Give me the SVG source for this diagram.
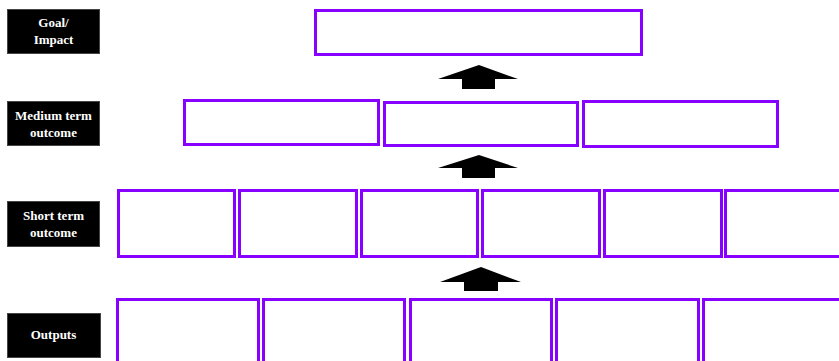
<svg xmlns="http://www.w3.org/2000/svg" width="839" height="361" viewBox="0 0 839 361">
<style>
.lbl{fill:#000;stroke:#444;stroke-width:1}
.lt{fill:#fff;font-family:"Liberation Serif",serif;font-weight:bold;font-size:13px;text-anchor:middle}
.box{fill:#fff;stroke:#8800ff;stroke-width:3}
.arr{fill:#000}
</style>
<rect width="839" height="361" fill="#fff"/>
<g id="label-goal"><rect class="lbl" x="7.5" y="9.5" width="92" height="44"/><text class="lt" x="53.5" y="27">Goal/</text><text class="lt" x="53.5" y="44">Impact</text></g>
<g id="label-medium"><rect class="lbl" x="7.5" y="101.5" width="92" height="44"/><text class="lt" x="53.5" y="120">Medium term</text><text class="lt" x="53.5" y="137">outcome</text></g>
<g id="label-short"><rect class="lbl" x="7.5" y="201.5" width="92" height="45"/><text class="lt" x="53.5" y="220">Short term</text><text class="lt" x="53.5" y="237">outcome</text></g>
<g id="label-outputs"><rect class="lbl" x="7.5" y="313.5" width="93" height="44"/><text class="lt" x="53.5" y="339">Outputs</text></g>
<g id="goal-box"><rect class="box" x="315.5" y="10.5" width="326" height="44"/></g>
<g id="medium-1"><rect class="box" x="184.5" y="100.5" width="194" height="44"/></g>
<g id="medium-2"><rect class="box" x="384.5" y="102.5" width="193" height="43"/></g>
<g id="medium-3"><rect class="box" x="583.5" y="101.5" width="194" height="45"/></g>
<g id="short-1"><rect class="box" x="118.5" y="190.5" width="116" height="66"/></g>
<g id="short-2"><rect class="box" x="239.5" y="190.5" width="117" height="66"/></g>
<g id="short-3"><rect class="box" x="361.5" y="190.5" width="116" height="66"/></g>
<g id="short-4"><rect class="box" x="482.5" y="190.5" width="117" height="66"/></g>
<g id="short-5"><rect class="box" x="604.5" y="190.5" width="117" height="66"/></g>
<g id="short-6"><rect class="box" x="725.5" y="190.5" width="117" height="66"/></g>
<g id="output-1"><rect class="box" x="117.5" y="299.5" width="141" height="70"/></g>
<g id="output-2"><rect class="box" x="263.5" y="299.5" width="141" height="70"/></g>
<g id="output-3"><rect class="box" x="410.5" y="299.5" width="141" height="70"/></g>
<g id="output-4"><rect class="box" x="556.5" y="299.5" width="142" height="70"/></g>
<g id="output-5"><rect class="box" x="703.5" y="299.5" width="142" height="70"/></g>
<g id="connectors">
<polygon class="arr" points="479,65 518,79 495,79 495,89 462,89 462,79 438,79"/>
<polygon class="arr" points="479,155 518,168 495,168 495,178 462,178 462,168 438,168"/>
<polygon class="arr" points="481,267 521,282 498,282 498,291 464,291 464,282 440,282"/>
</g>
</svg>
